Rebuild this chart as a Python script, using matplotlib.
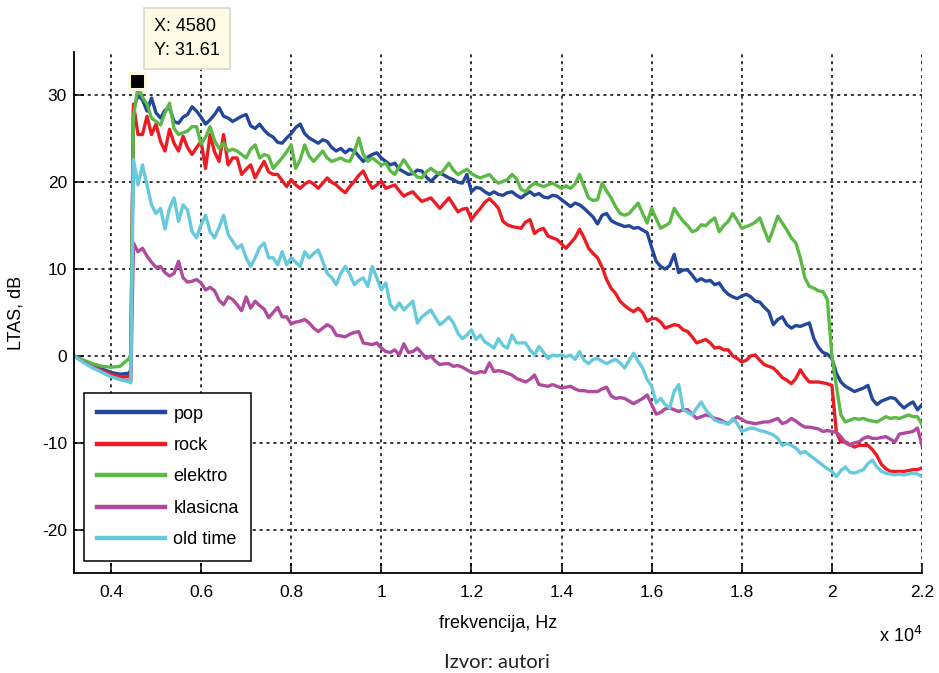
import numpy as np
import matplotlib
matplotlib.use("Agg")
import matplotlib.pyplot as plt
from matplotlib.ticker import FuncFormatter

plt.rcParams['font.family'] = ['Liberation Sans', 'DejaVu Sans']
plt.rcParams['axes.unicode_minus'] = False

# frequency axis, Hz: low part before the jump, then 100 Hz steps 4500..22000
freq_low = [3180, 3400, 3600, 3800, 4000, 4200, 4400, 4440]
freq = np.array(freq_low + list(range(4500, 22001, 100)))

pop = [0, -0.6, -1.1, -1.5, -1.9, -2.1, -2.0, -1.6,
       28.5, 30.0, 29.5, 28.2, 29.7,
       28.0, 27.4, 28.3, 28.6, 27.0, 26.8, 27.5, 27.8, 28.7, 28.2,
       27.5, 26.7, 27.2, 27.8, 28.6, 27.6, 27.4, 27.0, 27.3, 27.6,
       27.8, 26.5, 26.2, 26.7, 26.0, 25.5, 25.2, 24.6, 24.5, 25.1,
       25.6, 26.3, 26.7, 25.6, 25.1, 24.8, 24.5, 24.9, 24.7, 24.0,
       23.6, 23.9, 23.4, 23.8, 23.6, 23.0, 22.4, 22.9, 23.2, 23.4,
       22.8, 22.4, 22.0, 22.2, 21.5, 21.2, 20.9, 21.0, 21.4, 21.3,
       20.6, 20.1, 20.6, 21.1, 20.8, 20.5, 20.3, 20.0, 19.9, 20.9,
       18.9, 19.4, 19.3, 18.9, 18.6, 18.9, 18.6, 18.5, 18.8, 18.9,
       18.5, 18.2, 18.6, 18.9, 18.5, 18.7, 18.3, 18.2, 18.5, 18.4,
       18.0, 17.6, 17.2, 17.6, 17.4, 17.0, 16.5, 16.0, 15.2, 16.2,
       16.4, 15.6, 15.3, 15.1, 14.9, 15.0, 14.7, 14.8, 14.5, 14.2,
       12.5, 10.9, 10.3, 10.0, 10.4, 11.7, 9.6, 9.9, 9.9, 9.3,
       8.6, 8.9, 8.6, 8.7, 8.2, 8.4, 7.6, 7.1, 6.8, 6.6,
       6.9, 7.1, 6.8, 6.3, 6.2, 5.6, 5.1, 3.6, 4.2, 4.5,
       3.6, 3.2, 3.5, 3.4, 3.6, 3.8, 2.0, 1.0, 0.4, 0.2,
       -0.3, -2.0, -3.0, -3.5, -3.8, -4.1, -3.9, -3.7, -3.4, -5.0,
       -5.6, -5.2, -5.0, -4.8, -4.9, -5.5, -6.0, -5.6, -5.3, -6.2,
       -5.6]

rock = [0, -0.7, -1.2, -1.7, -2.1, -2.4, -2.4, -2.0,
        29.0, 25.5, 25.5, 27.6, 25.5,
        26.7, 24.7, 23.6, 26.1, 24.5, 23.6, 25.3, 24.0, 23.2, 24.0,
        24.7, 21.6, 25.5, 23.5, 22.4, 25.5, 22.0, 22.8, 22.8, 20.9,
        21.5, 22.0, 20.5, 21.5, 22.4, 21.2, 20.9, 20.9, 20.2, 19.5,
        20.3, 19.7, 19.3, 19.8, 20.1, 19.8, 19.3, 19.9, 20.5, 20.0,
        19.7, 19.2, 18.8, 19.5, 20.1, 20.8, 21.3, 20.2, 19.3, 19.7,
        20.1, 19.3, 19.5, 19.7, 19.0, 18.4, 18.7, 18.9, 18.3, 17.8,
        18.0, 18.2, 17.6, 17.0, 17.6, 18.2, 17.4, 16.6, 16.9, 17.0,
        15.7, 16.4, 17.0, 17.7, 18.1, 17.6, 17.0, 15.5, 15.1, 14.9,
        14.8, 14.7, 15.4, 15.7, 14.1, 14.5, 14.7, 13.8, 13.6, 13.4,
        12.9, 12.4, 13.0, 13.6, 14.6, 13.6, 12.4, 11.8, 11.3, 10.2,
        8.8, 7.8, 7.2, 6.3, 5.8, 5.4, 5.1, 5.5, 5.0, 4.0,
        4.3, 4.3, 3.9, 3.2, 3.4, 3.6, 3.5, 3.0, 2.8, 2.2,
        1.5, 1.7, 1.9, 1.5, 0.9, 1.0, 0.7, 0.7, 0.0, -0.3,
        -0.7, -0.5, 0.0, 0.1, -0.5, -1.0, -1.2, -1.4, -1.9, -2.5,
        -2.8, -3.2, -2.6, -1.6, -2.4, -3.0, -3.0, -3.0, -3.1, -3.2,
        -3.4, -8.8, -9.9, -9.9, -10.2, -10.5, -10.3, -10.3, -10.3, -10.8,
        -11.5, -12.5, -13.0, -13.3, -13.3, -13.3, -13.3, -13.2, -13.1, -13.1,
        -12.9]

elektro = [0, -0.5, -0.9, -1.2, -1.3, -1.2, -0.3, 0.2,
           27.5, 31.0, 29.8, 29.0, 27.4,
           27.0, 26.6, 28.0, 29.1, 26.2, 25.5, 25.7, 25.9, 26.4, 26.4,
           24.4, 25.2, 26.4, 24.8, 23.9, 24.5, 23.6, 23.8, 23.6, 23.2,
           22.8, 23.8, 24.3, 22.8, 23.2, 23.0, 21.6, 22.2, 22.8, 23.5,
           24.3, 21.6, 22.6, 24.3, 23.0, 22.4, 23.0, 23.6, 22.8, 22.4,
           22.6, 22.8, 22.5, 22.4, 23.5, 25.1, 23.2, 22.4, 22.8, 22.4,
           22.0, 22.2, 21.3, 20.9, 21.8, 22.6, 21.8, 21.1, 20.6, 20.5,
           21.2, 21.6, 21.2, 20.9, 21.5, 22.2, 21.4, 20.9, 21.2, 21.5,
           21.0, 20.7, 20.5, 20.7, 20.9, 20.3, 19.9, 20.1, 20.3, 20.9,
           20.4, 19.2, 18.9, 19.5, 19.9, 19.7, 19.5, 19.7, 19.9, 19.6,
           19.3, 19.6, 19.3, 19.8, 20.9, 19.5, 18.2, 17.9, 18.0, 19.9,
           19.0, 18.2, 17.2, 16.4, 16.2, 16.4, 17.0, 17.6, 16.4, 15.3,
           17.0, 15.8, 14.7, 15.0, 15.3, 17.0, 16.2, 15.5, 15.0, 14.3,
           14.5, 15.1, 15.0, 15.5, 15.9, 14.3, 15.0, 15.5, 16.4, 15.6,
           14.7, 14.9, 15.1, 15.4, 15.9, 14.5, 13.2, 14.6, 16.1, 15.3,
           14.5, 13.6, 13.0, 11.3, 9.0, 8.0, 7.8, 7.5, 7.4, 6.5,
           0.0, -3.5, -6.8, -7.6, -7.4, -7.2, -7.3, -7.2, -7.4, -7.5,
           -7.6, -7.3, -7.0, -7.2, -7.1, -7.2, -7.0, -6.8, -7.0, -7.0,
           -7.9]

klasicna = [0, -0.7, -1.3, -1.8, -2.3, -2.7, -2.9, -3.0,
            13.0, 12.0, 12.4, 11.5, 10.8,
            10.2, 10.3, 9.6, 9.2, 9.5, 10.9, 9.0, 8.5, 8.6, 8.8,
            8.4, 7.6, 7.9, 7.5, 6.4, 5.9, 6.8, 6.5, 5.9, 5.2,
            6.8, 5.5, 6.3, 5.8, 5.4, 4.4, 5.0, 5.6, 4.5, 4.5,
            3.7, 3.9, 4.0, 4.2, 3.8, 3.2, 2.8, 3.2, 3.6, 3.3,
            2.4, 2.3, 2.2, 2.5, 2.7, 2.8, 1.5, 1.4, 1.3, 1.5,
            0.9, 0.5, 0.4, 0.7, 0.1, 1.4, 0.4, 0.5, 0.9, 0.3,
            -0.3, 0.0, -0.6, -1.0, -0.9, -0.9, -1.2, -1.1, -1.3, -1.6,
            -1.9, -2.0, -1.8, -1.9, -0.8, -1.8, -1.7, -1.8, -2.0, -2.2,
            -2.6, -2.8, -3.0, -2.7, -2.2, -3.3, -3.4, -3.5, -3.3, -3.5,
            -3.7, -3.6, -3.5, -3.8, -4.0, -4.0, -4.1, -4.1, -4.1, -3.8,
            -3.6, -4.6, -4.9, -4.8, -4.9, -5.2, -5.5, -5.2, -4.9, -4.5,
            -5.6, -6.7, -6.5, -6.1, -6.0, -6.2, -6.4, -6.2, -6.2, -6.7,
            -7.2, -7.0, -6.8, -6.9, -7.2, -7.3, -7.6, -7.8, -7.4, -7.0,
            -7.3, -7.6, -7.7, -7.8, -7.7, -7.6, -7.6, -7.4, -7.2, -7.8,
            -7.6, -7.2, -7.5, -7.9, -8.2, -8.2, -8.3, -8.4, -8.7, -8.6,
            -8.7, -8.8, -9.3, -10.0, -10.3, -10.0, -9.9, -9.5, -9.3, -9.5,
            -9.5, -9.4, -9.3, -9.6, -9.9, -9.0, -8.9, -8.8, -8.7, -8.3,
            -10.3]

old_time = [0, -0.8, -1.4, -1.9, -2.4, -2.7, -3.0, -3.1,
            22.6, 19.7, 22.0, 19.7, 17.4,
            16.4, 17.0, 14.6, 17.0, 18.2, 15.5, 17.4, 16.8, 14.3, 13.6,
            15.1, 16.2, 14.3, 13.6, 14.8, 16.2, 14.0, 13.2, 12.4, 12.8,
            11.3, 10.3, 11.3, 12.5, 13.0, 11.3, 11.3, 10.5, 12.0, 10.5,
            11.3, 10.8, 10.3, 12.0, 11.3, 11.8, 12.2, 10.9, 9.5, 9.0,
            8.2, 9.5, 10.3, 9.4, 8.2, 8.7, 9.0, 8.0, 10.3, 9.0,
            7.6, 8.4, 5.9, 5.3, 6.1, 5.3, 5.8, 6.3, 3.8, 4.5,
            4.9, 5.3, 4.4, 3.6, 4.0, 4.5, 3.8, 2.6, 2.0, 2.4,
            3.0, 1.9, 2.4, 1.6, 1.3, 0.9, 2.0, 1.2, 0.9, 2.4,
            1.5, 1.5, 1.5, 0.7, 0.1, 1.1, 0.4, -0.3, 0.1, 0.0,
            0.1, -0.1, 0.1, -0.4, 0.5, -0.5, -0.9, -0.4, -0.3, -0.6,
            -0.9, -0.6, -0.4, -0.8, -1.4, -0.5, 0.3, -0.6, -1.4, -2.7,
            -3.5, -5.4, -4.9, -5.6, -6.0, -4.1, -3.3, -6.2, -6.5, -6.8,
            -6.0, -5.3, -6.2, -6.8, -7.4, -7.6, -7.7, -7.9, -7.2, -7.8,
            -8.7, -8.5, -8.3, -8.4, -8.6, -8.7, -8.9, -9.1, -9.5, -10.3,
            -10.1, -10.3, -10.6, -11.2, -11.0, -11.4, -11.8, -12.2, -12.6, -13.0,
            -13.3, -13.9, -13.2, -12.8, -13.4, -13.5, -13.3, -13.1, -12.4, -12.0,
            -12.8, -13.3, -13.5, -13.6, -13.7, -13.6, -13.7, -13.6, -13.5, -13.6,
            -13.9]

series = [("pop", pop, "#24479b"),
          ("rock", rock, "#ec1c24"),
          ("elektro", elektro, "#5cb946"),
          ("klasicna", klasicna, "#b04a9e"),
          ("old time", old_time, "#66c9dc")]

tip_x, tip_y = 4580, 31.61

fig = plt.figure(figsize=(9.39, 6.73), dpi=100)
ax = fig.add_axes([0.0788, 0.1486, 0.9031, 0.7741])

for name, vals, col in series:
    ax.plot(freq, vals, color=col, lw=2.4, label=name)

ax.set_xlim(3180, 22000)
ax.set_ylim(-25, 35)
ax.set_xticks(range(4000, 22001, 2000))
ax.set_yticks([-20, -10, 0, 10, 20, 30])
ax.xaxis.set_major_formatter(FuncFormatter(lambda v, p: '%g' % (v / 1e4)))
ax.grid(True, color='k', linestyle=(0, (2, 2.5)), lw=1.1)
ax.set_axisbelow(True)
for s in ['top', 'right']:
    ax.spines[s].set_visible(False)
for s in ['left', 'bottom']:
    ax.spines[s].set_linewidth(1.3)
ax.tick_params(direction='in', length=7, width=1.1, labelsize=12.5)
ax.tick_params(axis='x', pad=9)
ax.tick_params(axis='y', pad=5)

ax.set_xlabel("frekvencija, Hz", fontsize=13, va='top')
ax.xaxis.set_label_coords(0.5, -0.08)
ax.set_ylabel("LTAS, dB", fontsize=13)
ax.yaxis.set_label_coords(-0.058, 0.5)
fig.text(0.982, 1 - 642 / 673, r"x 10$^4$", fontsize=13, ha='right', va='baseline')
fig.text(0.529, 0.016, "Izvor: autori", fontsize=14.5, ha='center', va='center',
         family=['Lato', 'DejaVu Sans'], color='#222222')

leg = ax.legend(loc='lower left', bbox_to_anchor=(0.0118, 0.023), borderaxespad=0,
                fancybox=False, framealpha=1, edgecolor='k', fontsize=13,
                handlelength=3.8, handletextpad=0.45, labelspacing=0.8,
                borderpad=0.7)
leg.get_frame().set_linewidth(1.1)
for ln in leg.get_lines():
    ln.set_linewidth(3.2)

# data tip
ax.plot([tip_x], [tip_y], 's', ms=11.5, mfc='k', mec='#fbf7dc', mew=2.2,
        clip_on=False, zorder=5)
ax.annotate("X: %d\nY: %.2f" % (tip_x, tip_y), xy=(tip_x, tip_y),
            xytext=(12, 31), textcoords='offset points', ha='left', va='center',
            fontsize=13, linespacing=1.5, annotation_clip=False,
            bbox=dict(boxstyle='square,pad=0.55', fc='#fdfbe6', ec='#d8d8cc', lw=1.2))

fig.savefig("out.png", dpi=100)
